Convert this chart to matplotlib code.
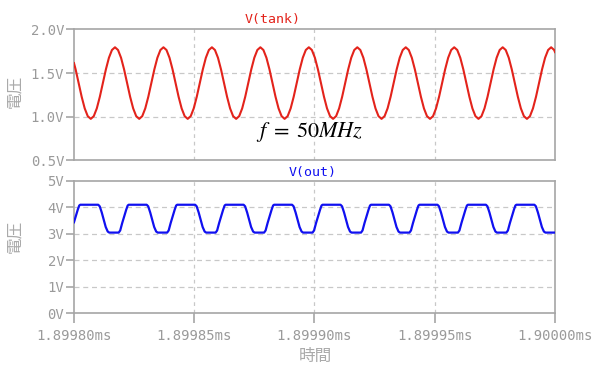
import matplotlib
matplotlib.use("Agg")
import matplotlib.pyplot as plt

# Transient waveforms (time in ns from 1.89980 ms)
tank_t = [
    0.00, 0.68, 1.94, 3.20, 4.46, 5.72, 6.98, 8.23, 9.49, 10.75, 12.01, 13.27, 14.53, 15.79,
    17.05, 18.31, 19.57, 20.83, 22.09, 23.35, 24.61, 25.87, 27.13, 28.39, 29.64, 30.90, 32.16, 33.42, 34.68, 35.94,
    37.20, 38.46, 39.72, 40.98, 42.24, 43.50, 44.76, 46.02, 47.28, 48.54, 49.79, 51.05, 52.31, 53.57, 54.83, 56.09,
    57.35, 58.61, 59.87, 61.13, 62.39, 63.65, 64.91, 66.17, 67.43, 68.69, 69.94, 71.20, 72.46, 73.72, 74.98, 76.24,
    77.50, 78.76, 80.02, 81.28, 82.54, 83.80, 85.06, 86.32, 87.58, 88.84, 90.09, 91.35, 92.61, 93.87, 95.13, 96.39,
    97.65, 98.91, 100.17, 101.43, 102.69, 103.95, 105.21, 106.47, 107.73, 108.99, 110.24, 111.50, 112.76, 114.02, 115.28, 116.54,
    117.80, 119.06, 120.32, 121.58, 122.84, 124.10, 125.36, 126.62, 127.88, 129.14, 130.39, 131.65, 132.91, 134.17, 135.43, 136.69,
    137.95, 139.21, 140.47, 141.73, 142.99, 144.25, 145.51, 146.77, 148.03, 149.29, 150.54, 151.80, 153.06, 154.32, 155.58, 156.84,
    158.10, 159.36, 160.62, 161.88, 163.14, 164.40, 165.66, 166.92, 168.18, 169.44, 170.69, 171.95, 173.21, 174.47, 175.73, 176.99,
    178.25, 179.51, 180.77, 182.03, 183.29, 184.55, 185.81, 187.07, 188.33, 189.59, 190.84, 192.10, 193.36, 194.62, 195.88, 197.14,
    198.40, 199.66, 200.00,
]
tank_v = [
    1.614, 1.542, 1.385, 1.228, 1.095, 1.006, 0.975, 1.006, 1.095, 1.228, 1.385, 1.542, 1.675, 1.764,
    1.795, 1.764, 1.675, 1.542, 1.385, 1.228, 1.095, 1.006, 0.975, 1.006, 1.095, 1.228, 1.385, 1.542, 1.675, 1.764,
    1.795, 1.764, 1.675, 1.542, 1.385, 1.228, 1.095, 1.006, 0.975, 1.006, 1.095, 1.228, 1.385, 1.542, 1.675, 1.764,
    1.795, 1.764, 1.675, 1.542, 1.385, 1.228, 1.095, 1.006, 0.975, 1.006, 1.095, 1.228, 1.385, 1.542, 1.675, 1.764,
    1.795, 1.764, 1.675, 1.542, 1.385, 1.228, 1.095, 1.006, 0.975, 1.006, 1.095, 1.228, 1.385, 1.542, 1.675, 1.764,
    1.795, 1.764, 1.675, 1.542, 1.385, 1.228, 1.095, 1.006, 0.975, 1.006, 1.095, 1.228, 1.385, 1.542, 1.675, 1.764,
    1.795, 1.764, 1.675, 1.542, 1.385, 1.228, 1.095, 1.006, 0.975, 1.006, 1.095, 1.228, 1.385, 1.542, 1.675, 1.764,
    1.795, 1.764, 1.675, 1.542, 1.385, 1.228, 1.095, 1.006, 0.975, 1.006, 1.095, 1.228, 1.385, 1.542, 1.675, 1.764,
    1.795, 1.764, 1.675, 1.542, 1.385, 1.228, 1.095, 1.006, 0.975, 1.006, 1.095, 1.228, 1.385, 1.542, 1.675, 1.764,
    1.795, 1.764, 1.675, 1.542, 1.385, 1.228, 1.095, 1.006, 0.975, 1.006, 1.095, 1.228, 1.385, 1.542, 1.675, 1.764,
    1.795, 1.764, 1.740,
]

# V(out): corner points of the clipped waveform
out_t = [
    0.00, 1.56, 2.18, 2.60, 10.08, 10.71, 11.54, 13.20, 14.03, 14.66,
    18.59, 19.22, 20.05, 21.71, 22.33, 22.75, 30.23, 30.86, 31.69, 33.35, 34.18, 34.81,
    38.74, 39.37, 40.20, 41.86, 42.48, 42.90, 50.38, 51.01, 51.84, 53.50, 54.33, 54.96,
    58.89, 59.52, 60.35, 62.01, 62.63, 63.05, 70.53, 71.16, 71.99, 73.65, 74.48, 75.11,
    79.04, 79.67, 80.50, 82.16, 82.78, 83.20, 90.68, 91.31, 92.14, 93.80, 94.63, 95.26,
    99.19, 99.82, 100.65, 102.31, 102.93, 103.35, 110.83, 111.46, 112.29, 113.95, 114.78, 115.41,
    119.34, 119.97, 120.80, 122.46, 123.08, 123.50, 130.98, 131.61, 132.44, 134.10, 134.93, 135.56,
    139.49, 140.12, 140.95, 142.61, 143.23, 143.65, 151.13, 151.76, 152.59, 154.25, 155.08, 155.71,
    159.64, 160.27, 161.10, 162.76, 163.38, 163.80, 171.28, 171.91, 172.74, 174.40, 175.23, 175.86,
    179.79, 180.42, 181.25, 182.91, 183.53, 183.95, 191.43, 192.06, 192.89, 194.55, 195.38, 196.01,
    200.00,
]
out_v = [
    3.43, 3.90, 4.06, 4.09, 4.09, 4.03, 3.80, 3.25, 3.08, 3.04,
    3.04, 3.12, 3.40, 3.90, 4.06, 4.09, 4.09, 4.03, 3.80, 3.25, 3.08, 3.04,
    3.04, 3.12, 3.40, 3.90, 4.06, 4.09, 4.09, 4.03, 3.80, 3.25, 3.08, 3.04,
    3.04, 3.12, 3.40, 3.90, 4.06, 4.09, 4.09, 4.03, 3.80, 3.25, 3.08, 3.04,
    3.04, 3.12, 3.40, 3.90, 4.06, 4.09, 4.09, 4.03, 3.80, 3.25, 3.08, 3.04,
    3.04, 3.12, 3.40, 3.90, 4.06, 4.09, 4.09, 4.03, 3.80, 3.25, 3.08, 3.04,
    3.04, 3.12, 3.40, 3.90, 4.06, 4.09, 4.09, 4.03, 3.80, 3.25, 3.08, 3.04,
    3.04, 3.12, 3.40, 3.90, 4.06, 4.09, 4.09, 4.03, 3.80, 3.25, 3.08, 3.04,
    3.04, 3.12, 3.40, 3.90, 4.06, 4.09, 4.09, 4.03, 3.80, 3.25, 3.08, 3.04,
    3.04, 3.12, 3.40, 3.90, 4.06, 4.09, 4.09, 4.03, 3.80, 3.25, 3.08, 3.04,
    3.04,
]

x_ticks = [0, 50, 100, 150, 200]
x_labels = ["1.89980ms", "1.89985ms", "1.89990ms", "1.89995ms", "1.90000ms"]
top_yticks = [0.5, 1.0, 1.5, 2.0]
top_ylabels = ["0.5V", "1.0V", "1.5V", "2.0V"]
bot_yticks = [0, 1, 2, 3, 4, 5]
bot_ylabels = ["0V", "1V", "2V", "3V", "4V", "5V"]

plt.rcParams["mathtext.fontset"] = "stix"
mono = "DejaVu Sans Mono"
cjk = ["Noto Sans CJK JP", "DejaVu Sans"]
grey = "#a6a6a6"
txt_grey = "#9a9a9a"
red = "#e3231b"
blue = "#1010f0"

fig = plt.figure(figsize=(6, 3.72), dpi=100)
ax1 = fig.add_axes([0.1233, 0.569, 0.8017, 0.352])
ax2 = fig.add_axes([0.1233, 0.158, 0.8017, 0.3565])


def style(ax, yticks, ylabels, show_x):
    ax.set_xlim(0, 200)
    ax.set_ylim(yticks[0], yticks[-1])
    for s in ax.spines.values():
        s.set_color(grey)
        s.set_linewidth(1.2)
    ax.set_yticks(yticks)
    ax.set_yticklabels(ylabels, family=mono, fontsize=10, color=txt_grey)
    ax.set_xticks(x_ticks)
    if show_x:
        ax.set_xticklabels(x_labels, family=mono, fontsize=10, color=txt_grey)
        ax.tick_params(axis="x", length=7, width=1.2, color=grey, pad=4)
    else:
        ax.set_xticklabels([])
        ax.tick_params(axis="x", length=0)
    ax.tick_params(axis="y", length=6, width=1.2, color=grey, pad=1)
    # gridlines only inside, not on the frame
    for y in yticks[1:-1]:
        ax.axhline(y, color="#c8c8c8", lw=0.9, ls=(0, (4, 3)), zorder=1)
    for x in x_ticks[1:-1]:
        ax.axvline(x, color="#c8c8c8", lw=0.9, ls=(0, (3, 3)), zorder=1)


style(ax1, top_yticks, top_ylabels, False)
style(ax2, bot_yticks, bot_ylabels, True)

ax1.plot(tank_t, tank_v, color=red, lw=1.5, zorder=3)
ax2.plot(out_t, out_v, color=blue, lw=1.6, zorder=3)

ax1.text(0.413, 1.075, "V(tank)", transform=ax1.transAxes, ha="center", va="center",
         family=mono, fontsize=9.5, color=red)
ax2.text(0.496, 1.06, "V(out)", transform=ax2.transAxes, ha="center", va="center",
         family=mono, fontsize=9.5, color=blue)

ax1.text(0.49, 0.216, r"$f\;=\;50MHz$", transform=ax1.transAxes, ha="center", va="center",
         fontsize=16, color="black")

# y labels (vertical CJK text), centred at x = 15 px
fig.text(15 / 600, 1 - 91.5 / 372, "電圧", family=cjk, fontsize=12, color="#aaaaaa",
         rotation=90, ha="center", va="center")
fig.text(15 / 600, 1 - 236 / 372, "電圧", family=cjk, fontsize=12, color="#aaaaaa",
         rotation=90, ha="center", va="center")

fig.text(315 / 600, 1 - 356.5 / 372, "時間", family=cjk, fontsize=12, color="#aaaaaa",
         ha="center", va="center")

fig.savefig("out.png", dpi=100)
